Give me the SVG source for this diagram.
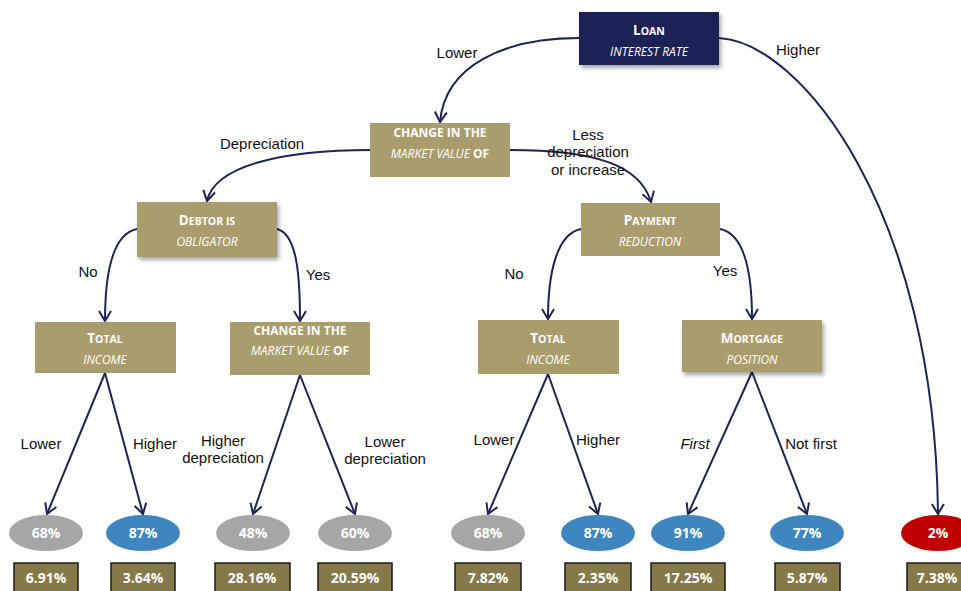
<svg xmlns="http://www.w3.org/2000/svg" width="961" height="591" viewBox="0 0 961 591">
<style>
.nav{fill:#1F2456}
.tan{fill:#AA9D6D}
.bt{font-family:"Open Sans","Liberation Sans",sans-serif;fill:#fff;text-anchor:middle}
.cap{font-weight:bold;font-size:13.5px}
.cap2{font-weight:bold;font-size:12px}
.sc{font-size:10.5px}
.it{font-style:italic;font-size:12px}
.lbl{font-family:"Liberation Sans",Arial,sans-serif;font-size:15px;fill:#111;text-anchor:middle}
.con{fill:none;stroke:#1F2456;stroke-width:2;marker-end:url(#ah)}
.pct{font-family:"Open Sans","Liberation Sans",sans-serif;font-weight:bold;font-size:14px;fill:#fff;text-anchor:middle}
.rate{fill:#857849;stroke:#1a1a1a;stroke-width:1.5}
.grey{fill:#A6A6A6}.blue{fill:#3F86C1}.red{fill:#C00000}
</style>
<defs>
<filter id="sh" x="-10%" y="-10%" width="130%" height="140%">
<feDropShadow dx="2" dy="3" stdDeviation="2" flood-color="#000" flood-opacity="0.35"/>
</filter>
<marker id="ah" markerWidth="14" markerHeight="14" refX="11" refY="7" orient="auto" markerUnits="userSpaceOnUse">
<path d="M1,1 L11,7 L1,13" fill="none" stroke="#1F2456" stroke-width="2"/>
</marker>
</defs>

<g id="connectors">
<path class="con" d="M579,38 C505,38 445,65 440,122"/>
<path class="con" d="M719,38 C800,42 935,210 938,514"/>
<path class="con" d="M370,150 C285,150 215,165 207,201"/>
<path class="con" d="M510,150 C595,150 640,165 651,202"/>
<path class="con" d="M137,229 C112,234 105,275 105,321"/>
<path class="con" d="M277,229 C297,234 300,275 300,321"/>
<path class="con" d="M581,229 C556,234 548,275 548,319"/>
<path class="con" d="M720,229 C745,234 752,275 752,319"/>
<path class="con" d="M105,373 L47,514"/>
<path class="con" d="M105,373 L143,514"/>
<path class="con" d="M300,375 L253,514"/>
<path class="con" d="M300,375 L355,514"/>
<path class="con" d="M548,374 L488,514"/>
<path class="con" d="M548,374 L598,514"/>
<path class="con" d="M752,372 L688,514"/>
<path class="con" d="M752,372 L807,514"/>
</g>

<g id="labels">
<text class="lbl" x="457" y="58">Lower</text>
<text class="lbl" x="798" y="55">Higher</text>
<text class="lbl" x="262" y="149">Depreciation</text>
<text class="lbl" x="588" y="140">Less</text>
<text class="lbl" x="588" y="157">depreciation</text>
<text class="lbl" x="588" y="175">or increase</text>
<text class="lbl" x="88" y="277">No</text>
<text class="lbl" x="318" y="280">Yes</text>
<text class="lbl" x="514" y="279">No</text>
<text class="lbl" x="725" y="276">Yes</text>
<text class="lbl" x="41" y="449">Lower</text>
<text class="lbl" x="155" y="449">Higher</text>
<text class="lbl" x="223" y="446">Higher</text>
<text class="lbl" x="223" y="463">depreciation</text>
<text class="lbl" x="385" y="447">Lower</text>
<text class="lbl" x="385" y="464">depreciation</text>
<text class="lbl" x="494" y="445">Lower</text>
<text class="lbl" x="598" y="445">Higher</text>
<text class="lbl" x="695" y="449" font-style="italic">First</text>
<text class="lbl" x="811" y="449">Not first</text>
</g>

<g id="loan">
<rect class="nav" x="579" y="12" width="140" height="53" filter="url(#sh)"/>
<text class="bt cap" x="649" y="35">L<tspan class="sc">OAN</tspan></text>
<text class="bt it" x="649" y="56">INTEREST RATE</text>
</g>

<g id="change1">
<rect class="tan" x="370" y="123" width="140" height="54"/>
<text class="bt cap2" x="440" y="137">CHANGE IN THE</text>
<text class="bt it" x="440" y="158">MARKET VALUE <tspan font-style="normal" font-weight="bold">OF</tspan></text>
</g>

<g id="debtor">
<rect class="tan" x="137" y="202" width="140" height="55" filter="url(#sh)"/>
<text class="bt cap" x="207" y="225">D<tspan class="sc">EBTOR IS</tspan></text>
<text class="bt it" x="207" y="246">OBLIGATOR</text>
</g>

<g id="payment">
<rect class="tan" x="581" y="203" width="139" height="53"/>
<text class="bt cap" x="650" y="225">P<tspan class="sc">AYMENT</tspan></text>
<text class="bt it" x="650" y="246">REDUCTION</text>
</g>

<g id="income1">
<rect class="tan" x="35" y="322" width="141" height="51"/>
<text class="bt cap" x="105" y="343">T<tspan class="sc">OTAL</tspan></text>
<text class="bt it" x="105" y="364">INCOME</text>
</g>

<g id="change2">
<rect class="tan" x="230" y="322" width="140" height="53"/>
<text class="bt cap2" x="300" y="335">CHANGE IN THE</text>
<text class="bt it" x="300" y="355">MARKET VALUE <tspan font-style="normal" font-weight="bold">OF</tspan></text>
</g>

<g id="income2">
<rect class="tan" x="478" y="320" width="141" height="54"/>
<text class="bt cap" x="548" y="343">T<tspan class="sc">OTAL</tspan></text>
<text class="bt it" x="548" y="364">INCOME</text>
</g>

<g id="mortgage">
<rect class="tan" x="682" y="320" width="140" height="52" filter="url(#sh)"/>
<text class="bt cap" x="752" y="343">M<tspan class="sc">ORTGAGE</tspan></text>
<text class="bt it" x="752" y="364">POSITION</text>
</g>

<g id="leaf1"><ellipse class="grey" cx="46" cy="533" rx="37" ry="18"/><text class="pct" x="46" y="538">68%</text><rect class="rate" x="14" y="563" width="64" height="32"/><text class="pct" x="46" y="583">6.91%</text></g>
<g id="leaf2"><ellipse class="blue" cx="143" cy="533" rx="37" ry="18"/><text class="pct" x="143" y="538">87%</text><rect class="rate" x="111" y="563" width="64" height="32"/><text class="pct" x="143" y="583">3.64%</text></g>
<g id="leaf3"><ellipse class="grey" cx="253" cy="533" rx="37" ry="18"/><text class="pct" x="253" y="538">48%</text><rect class="rate" x="215" y="563" width="75" height="32"/><text class="pct" x="252" y="583">28.16%</text></g>
<g id="leaf4"><ellipse class="grey" cx="355" cy="533" rx="37" ry="18"/><text class="pct" x="355" y="538">60%</text><rect class="rate" x="318" y="563" width="74" height="32"/><text class="pct" x="355" y="583">20.59%</text></g>
<g id="leaf5"><ellipse class="grey" cx="488" cy="533" rx="37" ry="18"/><text class="pct" x="488" y="538">68%</text><rect class="rate" x="455" y="563" width="66" height="32"/><text class="pct" x="488" y="583">7.82%</text></g>
<g id="leaf6"><ellipse class="blue" cx="598" cy="533" rx="37" ry="18"/><text class="pct" x="598" y="538">87%</text><rect class="rate" x="565" y="563" width="66" height="32"/><text class="pct" x="598" y="583">2.35%</text></g>
<g id="leaf7"><ellipse class="blue" cx="688" cy="533" rx="37" ry="18"/><text class="pct" x="688" y="538">91%</text><rect class="rate" x="651" y="563" width="74" height="32"/><text class="pct" x="688" y="583">17.25%</text></g>
<g id="leaf8"><ellipse class="blue" cx="807" cy="533" rx="37" ry="18"/><text class="pct" x="807" y="538">77%</text><rect class="rate" x="775" y="563" width="65" height="32"/><text class="pct" x="807" y="583">5.87%</text></g>
<g id="leaf9"><ellipse class="red" cx="938" cy="533" rx="37" ry="18"/><text class="pct" x="938" y="538">2%</text><rect class="rate" x="907" y="563" width="66" height="32"/><text class="pct" x="937" y="583">7.38%</text></g>
</svg>
